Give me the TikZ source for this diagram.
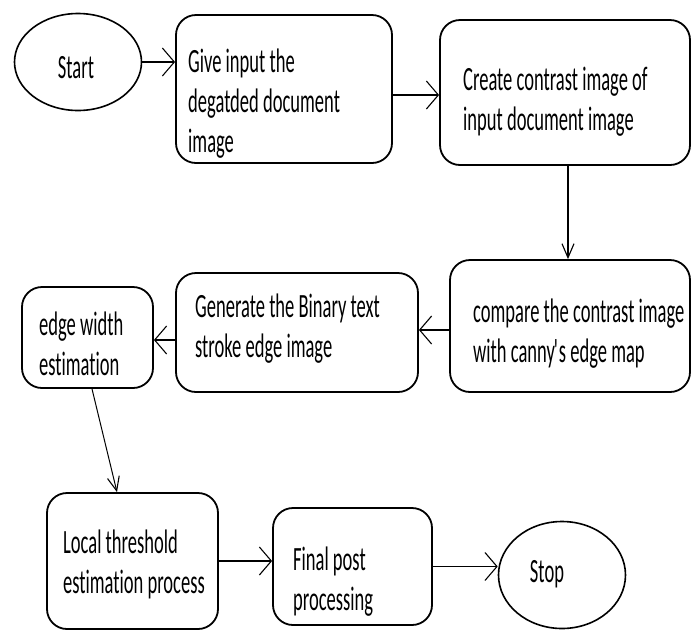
\documentclass[tikz,border=0pt]{standalone}
\usepackage{fontspec}
\setmainfont{Carlito}[FakeStretch=0.545,Ligatures=NoCommon]
\usetikzlibrary{arrows.meta,shapes.geometric}
\begin{document}
\begin{tikzpicture}[x=1pt,y=-1pt,
  box/.style={draw, line width=1.8pt, rounded corners=20pt, inner sep=0pt},
  ell/.style={draw, ellipse, line width=1.6pt, inner sep=0pt, font=\fontsize{34}{40}\selectfont},
  lbl/.style={anchor=north west, inner sep=0pt, align=left, font=\fontsize{34}{40}\selectfont},
  harr/.style={line width=1.8pt, -{Straight Barb[length=12pt,width=28pt,line width=1.1pt]}},
  varr/.style={line width=1.3pt, -{Straight Barb[length=14pt,width=12pt,line width=1.1pt]}}]
\useasboundingbox (0,0) rectangle (691,630);
% shapes
\node[ell, minimum width=127pt, minimum height=97pt] (start) at (78,62)
  {\raisebox{-16pt}[0pt][0pt]{\makebox[0pt]{\hspace*{-4pt}Start}}};
\node[box, minimum width=216pt, minimum height=148pt] (b1) at (284,89) {};
\node[box, minimum width=250pt, minimum height=145pt] (b2) at (565,92.5) {};
\node[box, minimum width=240pt, minimum height=132pt] (b3) at (570,326) {};
\node[box, minimum width=242pt, minimum height=119pt] (b4) at (297,332.5) {};
\node[box, minimum width=131pt, minimum height=101pt] (b5) at (87.5,337.5) {};
\node[box, minimum width=171pt, minimum height=136pt] (b6) at (132.5,561) {};
\node[box, minimum width=159pt, minimum height=117pt] (b7) at (352.5,566.5) {};
\node[ell, minimum width=127pt, minimum height=107pt] (stop) at (562,575)
  {\raisebox{-7pt}[0pt][0pt]{\makebox[0pt]{\hspace*{-30pt}Stop}}};
% texts
\node[lbl] (t1) at (188,44) {\strut Give input the\\degatded document\\image};
\node[lbl] (t2) at (463,62) {\strut Create contrast image of\\input document image};
\node[lbl] (t3) at (473,294) {\strut compare the contrast image\\with canny\kern-1pt\textquotesingle\kern-2.5pt s edge map};
\node[lbl] (t4) at (195,289) {\strut Generate the Binary text\\stroke edge image};
\node[lbl] (t5) at (39,307) {\strut edge width\\estimation};
\node[lbl] (t6) at (63,525) {\strut Local threshold\\estimation process};
\node[lbl] (t7) at (293,542) {\strut Final post\\processing};
% connectors
\draw[harr] (start.east) -- (start.east -| b1.west);
\draw[harr] ([yshift=-6pt]b1.east) -- ([yshift=-6pt]b1.east -| b2.west);
\draw[varr] ([xshift=3pt]b2.south) -- ([xshift=3pt]b2.south |- b3.north);
\draw[harr] ([yshift=-4pt]b3.west) -- ([yshift=-4pt]b3.west -| b4.east);
\draw[harr] ([yshift=-7.5pt]b4.west) -- ([yshift=-7.5pt]b4.west -| b5.east);
\draw[varr, line width=1pt] ([xshift=4.5pt]b5.south) -- ([xshift=-15.5pt]b6.north);
\draw[harr] (b6.east) -- (b6.east -| b7.west);
\draw[harr] (b7.east) -- (b7.east -| stop.west);
\end{tikzpicture}
\end{document}
